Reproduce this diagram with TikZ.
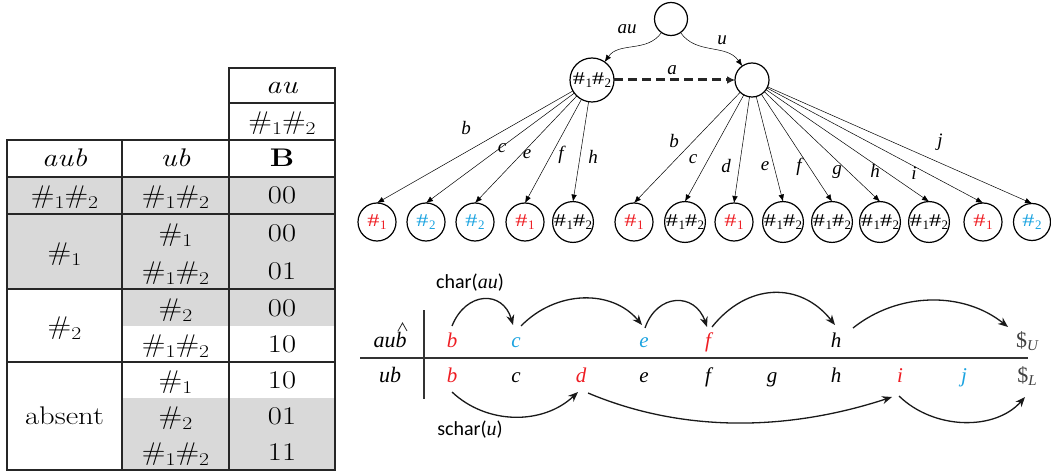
\documentclass[tikz,border=0pt]{standalone}
\usepackage{graphicx}
\usepackage{fontspec}
\newfontfamily\cambr{Liberation Serif}
\newfontfamily\csans{Carlito}
\usetikzlibrary{arrows.meta,calc}
\definecolor{hred}{HTML}{EE1D23}
\definecolor{hblue}{HTML}{1BA3E0}
\definecolor{cellgray}{HTML}{D9D9D9}
\newcommand\hs[1]{\scalebox{1.35}[1]{\#}\kern0.5pt\raisebox{-2.5pt}{\fontsize{13}{13}\selectfont #1}}
\newcommand\ths[1]{\#\raisebox{-5pt}{\fontsize{18}{18}\selectfont #1}}
\newcommand\tb[1]{\scalebox{1.2}[1]{#1}}
\begin{document}
\begin{tikzpicture}[x=1pt,y=-1pt,
  every node/.style={inner sep=0pt, outer sep=0pt},
  tbl/.style={anchor=base, font=\fontsize{25.5}{30}\selectfont},
  tline/.style={line width=1.1pt, black!85},
  circ/.style={circle, draw, line width=1.2pt, inner sep=0pt},
  leaf/.style={circ, minimum size=38pt, font=\cambr\fontsize{18}{18}\selectfont},
  tedge/.style={line width=0.5pt, -{Latex[length=7pt,width=5.5pt]}},
  elab/.style={font=\cambr\itshape\fontsize{19}{19}\selectfont},
  seq/.style={anchor=base, font=\cambr\itshape\fontsize{21}{21}\selectfont, text height=13pt, text depth=4pt},
  carc/.style={line width=1.3pt, black!90, -{Stealth[length=10pt,width=8pt]}},
  clab/.style={font=\csans\fontsize{20}{20}\selectfont},
]
\useasboundingbox (0,0) rectangle (1051,473);
% ---------- table ----------
\fill[cellgray] (7,177) rectangle (335,289);
\fill[cellgray] (122,289) rectangle (335,326);
\fill[cellgray] (122,398) rectangle (335,470);
\draw[tline] (229,68) rectangle (335,140);
\draw[tline] (229,103) -- (335,103);
\draw[tline] (7,140) rectangle (335,470);
\draw[tline] (122,140) -- (122,470);
\draw[tline] (229,140) -- (229,470);
\foreach \yy in {177,214,289,362} \draw[tline] (7,\yy) -- (335,\yy);
\node[tbl] (tau) at (282,94) {\tb{\textit{au}}};
\node[tbl] (thh) at (282,130) {\tb{\ths1\ths2}};
\node[tbl] (h1) at (64.5,167) {\tb{\textit{aub}}};
\node[tbl] (h2) at (175.5,167) {\tb{\textit{ub}}};
\node[tbl] (h3) at (282,167) {\tb{\textbf{B}}};
\node[tbl] (r1a) at (64.5,204) {\tb{\ths1\ths2}};
\node[tbl] (r1b) at (175.5,204) {\tb{\ths1\ths2}};
\node[tbl] (r1c) at (282,204) {\tb{00}};
\node[tbl] (g1a) at (64.5,260) {\tb{\ths1}};
\node[tbl] (g1b) at (175.5,241) {\tb{\ths1}};
\node[tbl] (g1c) at (282,241) {\tb{00}};
\node[tbl] (g1d) at (175.5,279) {\tb{\ths1\ths2}};
\node[tbl] (g1e) at (282,279) {\tb{01}};
\node[tbl] (g2a) at (64.5,334) {\tb{\ths2}};
\node[tbl] (g2b) at (175.5,316) {\tb{\ths2}};
\node[tbl] (g2c) at (282,316) {\tb{00}};
\node[tbl] (g2d) at (175.5,352.5) {\tb{\ths1\ths2}};
\node[tbl] (g2e) at (282,352.5) {\tb{10}};
\node[tbl] (aba) at (64.5,424.5) {\tb{absent}};
\node[tbl] (abb) at (175.5,388.5) {\tb{\ths1}};
\node[tbl] (abc) at (282,388.5) {\tb{10}};
\node[tbl] (abd) at (175.5,424.5) {\tb{\ths2}};
\node[tbl] (abe) at (282,424.5) {\tb{01}};
\node[tbl] (abf) at (175.5,460.5) {\tb{\ths1\ths2}};
\node[tbl] (abg) at (282,460.5) {\tb{11}};
% ---------- tree ----------
\node[circ, minimum size=33pt] (root) at (671,19) {};
\node[circ, minimum size=44pt, font=\cambr\fontsize{18}{18}\selectfont] (L) at (592,80) {\hs1\hs2};
\node[circ, minimum size=34pt] (R) at (752,80) {};
\node[leaf, text=hred]  (l1)  at (377,222) {\hs1};
\node[leaf, text=hblue] (l2)  at (426,222) {\hs2};
\node[leaf, text=hblue] (l3)  at (475,222) {\hs2};
\node[leaf, text=hred]  (l4)  at (525,222) {\hs1};
\node[leaf]             (l5)  at (573,222) {\hs1\hs2};
\node[leaf, text=hred]  (l6)  at (634,222) {\hs1};
\node[leaf]             (l7)  at (685,222) {\hs1\hs2};
\node[leaf, text=hred]  (l8)  at (734,222) {\hs1};
\node[leaf]             (l9)  at (783,222) {\hs1\hs2};
\node[leaf]             (l10) at (832,222) {\hs1\hs2};
\node[leaf]             (l11) at (880,222) {\hs1\hs2};
\node[leaf]             (l12) at (929,222) {\hs1\hs2};
\node[leaf, text=hred]  (l13) at (983,222) {\hs1};
\node[leaf, text=hblue, minimum size=37pt] (l14) at (1032,222) {\hs2};
\draw[tedge] (root) to[out=-125,in=55] (L);
\draw[tedge] (root) to[out=-55,in=125] (R);
\draw[line width=3pt, black!85, dash pattern=on 9pt off 5pt, -{Latex[length=8pt,width=8pt]}] (L) -- (R);
\foreach \k in {1,...,5} \draw[tedge] (L) -- (l\k.north);
\foreach \k in {6,...,14} \draw[tedge] (R) -- (l\k.north);
\node[elab] (eau) at (627,29) {au};
\node[elab] (eu) at (722,40) {u};
\node[elab] (ea) at (672,70) {a};
\node[elab] (eb1) at (466,128) {b};
\node[elab] (ec1) at (502,148) {c};
\node[elab] (ee1) at (527,154) {e};
\node[elab] (ef1) at (561,155) {f};
\node[elab] (eh1) at (593,157) {h};
\node[elab] (eb2) at (674,141) {b};
\node[elab] (ec2) at (693,159) {c};
\node[elab] (ed2) at (726,166) {d};
\node[elab] (ee2) at (765,166) {e};
\node[elab] (ef2) at (799,167) {f};
\node[elab] (eg2) at (837,172) {g};
\node[elab] (eh2) at (875,171) {h};
\node[elab] (ei2) at (914,173) {i};
\node[elab] (ej2) at (940,142) {j};
% ---------- bottom sequences ----------
\draw[line width=2pt, black!80] (360,358) -- (1028,358);
\draw[line width=2pt, black!80] (424,310) -- (424,399);
\node[seq, font=\cambr\itshape\fontsize{22}{22}\selectfont] (rowU) at (390,347) {aub};
\draw[line width=0.8pt, black!85, line join=miter] ($(rowU.north east)+(-8.5,-3)$) -- ++(4.5,-8) -- ++(4.5,8);
\node[seq, font=\cambr\itshape\fontsize{22}{22}\selectfont] (rowL) at (390,382) {ub};
\node[seq, text=hred]  (ub) at (452,347) {b};
\node[seq, text=hblue] (uc) at (516,347) {c};
\node[seq, text=hblue] (ue) at (644,347) {e};
\node[seq, text=hred]  (uf) at (708,347) {f};
\node[seq]             (uh) at (836,347) {h};
\node[seq, text=black!75, font=\cambr\fontsize{22}{22}\selectfont] (uU) at (1027,347) {\$\raisebox{-3pt}{\fontsize{15}{15}\selectfont\itshape U}};
\node[seq, text=hred]  (lb) at (452,382) {b};
\node[seq]             (lc) at (516,382) {c};
\node[seq, text=hred]  (ld) at (581,382) {d};
\node[seq]             (le) at (644,382) {e};
\node[seq]             (lf) at (708,382) {f};
\node[seq]             (lg) at (772,382) {g};
\node[seq]             (lh) at (836,382) {h};
\node[seq, text=hred]  (li) at (900,382) {i};
\node[seq, text=hblue] (lj) at (964,382) {j};
\node[seq, text=black!75, font=\cambr\fontsize{22}{22}\selectfont] (lL) at (1027,382) {\$\raisebox{-3pt}{\fontsize{15}{15}\selectfont\itshape L}};
\node[clab] (charlab) at (470,283) {char({\cambr\itshape au})};
\node[clab] (scharlab) at (470,430) {schar({\cambr\itshape u})};
\draw[carc] ($(ub.north)+(0,-8)$) .. controls +(14,-35) and +(-10,-35) .. ($(uc.north)+(-3,-9)$);
\draw[carc] ($(uc.north)+(5,-8)$) .. controls +(35,-36) and +(-30,-36) .. ($(ue.north)+(-2,-9)$);
\draw[carc] ($(ue.north)+(1,-6)$) .. controls +(12,-35) and +(-12,-35) .. ($(uf.north)+(-1,-7)$);
\draw[carc] ($(uf.north)+(4,-7)$) .. controls +(35,-44) and +(-35,-44) .. ($(uh.north)+(-1,-9)$);
\draw[carc] ($(uh.north)+(17,-6)$) .. controls +(45,-36) and +(-45,-36) .. ($(uU.north)+(-19,-7)$);
\draw[carc] ($(lb.south)+(0,6)$) .. controls +(35,33) and +(-35,33) .. ($(ld.south)+(-3,6)$);
\draw[carc] ($(ld.south)+(7,7)$) .. controls +(90,38) and +(-110,36) .. ($(li.south)+(-8,11)$);
\draw[carc] ($(li.south)+(-1,10)$) .. controls +(35,34) and +(-30,34) .. ($(lL.south)+(-2,11)$);
\end{tikzpicture}
\end{document}
